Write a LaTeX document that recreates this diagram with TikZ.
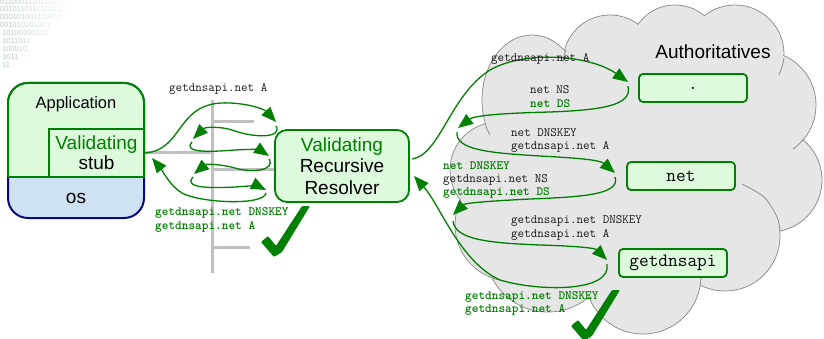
\documentclass[tikz,border=0pt]{standalone}
\usepackage{fontspec}
\setmainfont{Liberation Sans}
\setsansfont{Liberation Sans}
\usetikzlibrary{arrows.meta,fadings}
\definecolor{dgreen}{HTML}{008000}
\definecolor{boxgreen}{HTML}{DDFADD}
\definecolor{osblue}{HTML}{CFE2F3}
\definecolor{navyb}{HTML}{0A0A80}
\definecolor{netgray}{HTML}{C0C0C0}
\definecolor{cloudfill}{HTML}{E6E6E6}
\definecolor{cloudedge}{HTML}{8C8C8C}
\definecolor{txtgray}{HTML}{1A1A1A}
\definecolor{bitcol}{HTML}{B8C8C8}
\tikzfading[name=fadeR, left color=transparent!100, right color=transparent!0]
\begin{document}
\begin{tikzpicture}[x=1pt,y=-1pt,
  gline/.style={draw=netgray, line width=3pt},
  flow/.style={draw=dgreen, line width=1.3pt, -{Triangle[length=15pt,width=12pt]}},
  lbl/.style={font=\fontsize{12.7}{13}\selectfont\ttfamily, text=txtgray, anchor=west, inner sep=0pt},
  glbl/.style={lbl, font=\fontsize{12.7}{13}\selectfont\ttfamily\bfseries, text=dgreen},
  authbox/.style={draw=dgreen, line width=1.8pt, fill=boxgreen, rounded corners=4pt, minimum width=108pt, minimum height=28pt, inner sep=0pt, font=\fontsize{18.8}{20}\selectfont\ttfamily},
  cloudline/.style={draw=cloudedge, line width=0.8pt},
  bits/.style={anchor=west, inner sep=0pt, font=\fontsize{7.5}{8}\selectfont, text=bitcol},
  bigtxt/.style={font=\fontsize{19}{20}\selectfont, inner sep=0pt},
]
\useasboundingbox (0,0) rectangle (824,339);

% faded binary decoration
\node[bits] (b1) at (0,2)  {0110001110100011};
\node[bits] (b2) at (0,9)  {00101101101101111};
\node[bits] (b3) at (0,17) {000001001100011};
\node[bits] (b4) at (0,25) {001010101001};
\node[bits] (b5) at (2,33) {10100100110};
\node[bits] (b6) at (2,41) {1011011};
\node[bits] (b7) at (2,49) {100010};
\node[bits] (b8) at (2,57) {1011};
\node[bits] (b9) at (2,65) {11};
\fill[white, path fading=fadeR] (8,-2) rectangle (75,72);

% network bus
\coordinate (busTop) at (212,100);
\coordinate (busBot) at (212,273);
\coordinate (busA) at (214,122);
\coordinate (busAe) at (254,122);
\coordinate (busB) at (214,247);
\coordinate (busBe) at (250,247);
\coordinate (busR) at (212,170);
\coordinate (resIn) at (276,170);
\draw[gline] (busTop) -- (busBot);
\draw[gline] (busA) -- (busAe);
\draw[gline] (busB) -- (busBe);
\draw[gline] (busR) -- (resIn);

% application box
\draw[draw=navyb, line width=2pt, fill=osblue, rounded corners=20pt] (8,83) rectangle (144,218);
\begin{scope}
\clip (0,0) rectangle (150,177);
\draw[draw=dgreen, line width=2pt, fill=boxgreen, rounded corners=20pt] (8,83) rectangle (144,218);
\end{scope}
\draw[draw=dgreen, line width=2pt] (8,177) -- (144,177);
\node[draw=dgreen, line width=1.8pt, minimum width=95pt, minimum height=48pt, inner sep=0pt,
      align=center, font=\fontsize{19}{20}\selectfont] (stub) at (96.5,153) {\textcolor{dgreen}{Validating}\\stub};
\draw[gline] (stub.east) -- (stub.east -| busTop);
\node[font=\fontsize{16.5}{18}\selectfont, inner sep=0pt] (app) at (76,104) {Application};
\node[bigtxt] (os) at (76,198) {os};

% resolver
\node[draw=dgreen, line width=1.8pt, fill=boxgreen, rounded corners=12pt, minimum width=134pt,
      minimum height=72pt, inner sep=0pt, align=center, font=\fontsize{19}{21.5}\selectfont]
      (res) at (342,166) {\textcolor{dgreen}{Validating}\\Recursive\\Resolver};

% cloud
\foreach \cx/\cy/\r in {610/62/47, 675/50/45, 735/54/49, 762/105/54, 770/180/52, 725/236/55, 643/276/58, 548/249/63, 511/225/56, 498/170/48}
  \draw[cloudline, fill=cloudfill] (\cx,\cy) circle[radius=\r];
\draw[cloudline, fill=cloudfill] (532,100) ellipse[x radius=50, y radius=65];
\foreach \cx/\cy/\r in {610/62/47, 675/50/45, 735/54/49, 762/105/54, 770/180/52, 725/236/55, 643/276/58, 548/249/63, 511/225/56, 498/170/48}
  \fill[cloudfill] (\cx,\cy) circle[radius=\r-0.8];
\fill[cloudfill] (532,100) ellipse[x radius=49.2, y radius=64.2];
\fill[cloudfill] (640,170) circle[radius=130];
\draw[cloudline] plot[smooth] coordinates {(485,123) (487,129) (490,135)};
\draw[cloudline] plot[smooth] coordinates {(566,50) (564,56) (563,62)};
\draw[cloudline] plot[smooth] coordinates {(488,276) (495,279) (501,280)};
\draw[cloudline] plot[smooth] coordinates {(742,184) (764,197) (777,217) (780,231)};
\draw[cloudline] plot[smooth] coordinates {(803,140) (798,145) (793,149)};
\draw[cloudline] plot[smooth] coordinates {(700,286) (701,278) (700,270)};
\draw[cloudline] plot[smooth] coordinates {(784,58) (782,67) (779,75)};

\node[bigtxt] (auth) at (713,52) {Authoritatives};
\node[authbox] (root) at (693,88) {.};
\node[authbox] (net) at (681,176) {net};
\node[authbox] (gd) at (673,263) {getdnsapi};

% left exchange
\coordinate (l1) at (276,122);
\coordinate (l2) at (276,126);
\coordinate (l3) at (193,139);
\coordinate (l4) at (192,142);
\coordinate (l5) at (269,156);
\coordinate (l6) at (269,159);
\coordinate (l7) at (194,174);
\coordinate (l8) at (193,177);
\coordinate (l9) at (266,190);
\coordinate (l10) at (266,193);
\coordinate (l11) at (152,158);
\draw[flow] (stub.east) .. controls (185,150) and (175,100) .. (230,103) .. controls (252,104) and (265,110) .. (l1);
\draw[flow] (l2) .. controls (283,138) and (255,138) .. (235,131) .. controls (222,126) and (205,127) .. (l3);
\draw[flow] (l4) .. controls (182,153) and (210,152) .. (235,150) .. controls (250,149) and (260,150) .. (l5);
\draw[flow] (l6) .. controls (276,171) and (250,173) .. (235,168) .. controls (221,164) and (206,164) .. (l7);
\draw[flow] (l8) .. controls (182,189) and (215,188) .. (235,187) .. controls (248,186) and (258,186) .. (l9);
\draw[flow] (l10) .. controls (264,206) and (200,203) .. (182,193) .. controls (170,186) and (162,170) .. (l11);

% right exchange
\coordinate (r0) at (412,159);
\coordinate (r1) at (628,82);
\coordinate (r2) at (628,86);
\coordinate (r3) at (458,128);
\coordinate (r4) at (457,132);
\coordinate (r5) at (615,173);
\coordinate (r6) at (615,177);
\coordinate (r7) at (453,215);
\coordinate (r8) at (453,221);
\coordinate (r9) at (607,260);
\coordinate (r10) at (607,264);
\coordinate (r11) at (414,176);
\draw[flow] (r0) .. controls (440,155) and (450,95) .. (490,70) .. controls (525,50) and (590,55) .. (r1);
\draw[flow] (r2) .. controls (633,106) and (600,110) .. (550,112) .. controls (510,113) and (475,115) .. (r3);
\draw[flow] (r4) .. controls (455,150) and (490,153) .. (540,156) .. controls (578,158) and (600,160) .. (r5);
\draw[flow] (r6) .. controls (621,195) and (580,197) .. (530,199) .. controls (490,201) and (465,203) .. (r7);
\draw[flow] (r8) .. controls (455,240) and (490,243) .. (540,245) .. controls (575,246) and (595,248) .. (r9);
\draw[flow] (r10) .. controls (612,292) and (540,292) .. (500,280) .. controls (460,262) and (440,205) .. (r11);

% labels
\node[lbl] (t1) at (169,89) {getdnsapi.net A};
\node[glbl] (t2) at (155,213) {getdnsapi.net DNSKEY};
\node[glbl] (t3) at (155,227) {getdnsapi.net A};
\node[lbl] (t4) at (491,59) {getdnsapi.net A};
\node[lbl] (t5) at (530,90) {net NS};
\node[glbl] (t6) at (530,104) {net DS};
\node[lbl] (t7) at (511,133) {net DNSKEY};
\node[lbl] (t8) at (511,147) {getdnsapi.net A};
\node[glbl] (t9) at (443,166) {net DNSKEY};
\node[lbl] (t10) at (443,180) {getdnsapi.net NS};
\node[glbl] (t11) at (443,193) {getdnsapi.net DS};
\node[lbl] (t12) at (511,221) {getdnsapi.net DNSKEY};
\node[lbl] (t13) at (511,235) {getdnsapi.net A};
\node[glbl] (t14) at (465,297) {getdnsapi.net DNSKEY};
\node[glbl] (t15) at (465,310) {getdnsapi.net A};

% check marks
\fill[dgreen, rounded corners=1pt] (274,257) -- (261,242) -- (268,236) -- (276,246) -- (302,206) -- (310,206) -- (282,252) -- cycle;
\fill[dgreen, rounded corners=1pt, shift={(310,84)}] (274,257) -- (261,242) -- (268,236) -- (276,246) -- (302,206) -- (310,206) -- (282,252) -- cycle;
\end{tikzpicture}
\end{document}
